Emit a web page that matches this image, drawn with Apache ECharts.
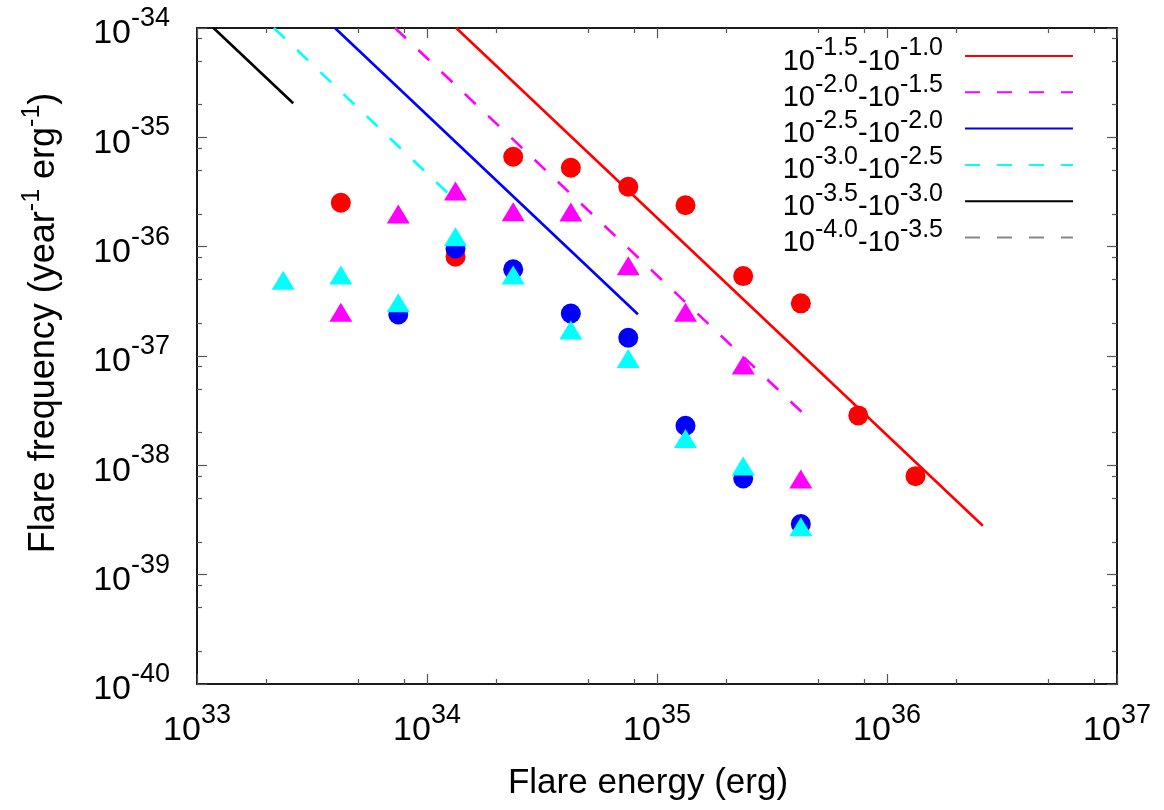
<!DOCTYPE html>
<html><head><meta charset="utf-8">
<script src="https://cdn.jsdelivr.net/npm/echarts@6/dist/echarts.min.js"></script>
<style>html,body{margin:0;padding:0;background:#fff}#c{width:1164px;height:810px}</style>
</head><body><div id="c"></div>
<script>
const FONT = "'Liberation Sans', Arial, Helvetica, sans-serif";

// Flare energy bin centres (erg)
const energy = [2.37e33, 4.22e33, 7.50e33, 1.33e34, 2.37e34, 4.22e34, 7.50e34, 1.33e35, 2.37e35, 4.22e35, 7.50e35, 1.33e36];
// Observed flare frequencies (year^-1 erg^-1)
const redFreq     = [null, 2.52e-36, null, 8.09e-37, 6.65e-36, 5.27e-36, 3.53e-36, 2.39e-36, 5.38e-37, 3.03e-37, 2.86e-38, 7.96e-39];
const magentaFreq = [null, 2.51e-37, 1.99e-36, 3.23e-36, 2.09e-36, 2.07e-36, 6.68e-37, 2.51e-37, 8.26e-38, 7.48e-39, null, null];
const blueFreq    = [null, null, 2.40e-37, 9.64e-37, 6.20e-37, 2.45e-37, 1.47e-37, 2.30e-38, 7.59e-39, 2.90e-39, null, null];
const cyanFreq    = [4.94e-37, 5.50e-37, 3.07e-37, 1.23e-36, 5.50e-37, 1.73e-37, 9.51e-38, 1.76e-38, 9.84e-39, 2.74e-39, null, null];

// Power-law fit lines (legend ranges)
const rangeLow  = ['-1.5', '-2.0', '-2.5', '-3.0', '-3.5', '-4.0'];
const rangeHigh = ['-1.0', '-1.5', '-2.0', '-2.5', '-3.0', '-3.5'];
const fitStartE = [1.34e34, 7.26e33, 3.98e33, 2.16e33, 1.18e33, null];
const fitStartF = [1e-34, 1e-34, 1e-34, 1e-34, 1e-34, null];
const fitEndE   = [2.61e36, 4.68e35, 8.26e34, 1.30e34, 2.62e33, null];
const fitEndF   = [2.80e-39, 2.55e-38, 2.41e-37, 2.77e-36, 2.05e-35, null];
const fitColors = ['#ff0000', '#ff00ff', '#0000ff', '#00ffff', '#000000', '#888888'];
const fitDashed = [false, true, false, true, false, true];

// Axis range and tick values (decades of 10)
const xMinExp = 33, xMaxExp = 37, yMinExp = -40, yMaxExp = -34;
const xMinorTicks = [2e33,5e33,8e33,2e34,5e34,8e34,2e35,5e35,8e35,2e36,5e36,8e36];
const yMinorTicks = [2e-40,5e-40,8e-40,2e-39,5e-39,8e-39,2e-38,5e-38,8e-38,2e-37,5e-37,8e-37,2e-36,5e-36,8e-36,2e-35,5e-35,8e-35];

// the axes are laid out in decades (log10 of the values)
const lg = Math.log10;
const pairs = (ys) => energy.map((e, i) => ys[i] == null ? null : [lg(e), lg(ys[i])]).filter(p => p);
const fitName = (i) => '10^' + rangeLow[i] + '-10^' + rangeHigh[i];

const axisRich = {
  b: { fontSize: 34, fontFamily: FONT, color: '#000', lineHeight: 46, verticalAlign: 'bottom' },
  s: { fontSize: 27, fontFamily: FONT, color: '#000', verticalAlign: 'top' }
};
const expFmt = (v) => '{b|10}{s|' + Math.round(v) + '}';
const lineCol = '#1a1a1a';

function mkAxis(isX, pos, major, showLabel) {
  const ax = {
    type: 'value', position: pos,
    min: isX ? xMinExp : yMinExp, max: isX ? xMaxExp : yMaxExp, interval: 1,
    axisLine: { show: major, onZero: false, lineStyle: { color: lineCol, width: 2 } },
    axisTick: { show: true, inside: true, length: major ? 10 : 5, lineStyle: { color: '#555', width: 1.2 } },
    splitLine: { show: false }, minorTick: { show: false },
    axisLabel: { show: showLabel, margin: isX ? 18 : 27, formatter: expFmt, rich: axisRich },
    axisPointer: { show: false }
  };
  if (!major) ax.axisTick.customValues = (isX ? xMinorTicks : yMinorTicks).map(lg);
  return ax;
}

const xAxes = [mkAxis(true, 'bottom', true, true), mkAxis(true, 'bottom', false, false), mkAxis(true, 'top', true, false), mkAxis(true, 'top', false, false)];
xAxes[0].name = 'Flare energy (erg)';
xAxes[0].nameLocation = 'middle';
xAxes[0].nameGap = 79;
xAxes[0].nameTextStyle = { fontSize: 35, fontFamily: FONT, color: '#000', lineHeight: 40, padding: [0, 18, 0, 0] };

const yAxes = [mkAxis(false, 'left', true, true), mkAxis(false, 'left', false, false), mkAxis(false, 'right', true, false), mkAxis(false, 'right', false, false)];
yAxes[0].name = '{t|Flare frequency (year}{s|-1}{t| erg}{s|-1}{t|)}';
yAxes[0].nameLocation = 'middle';
yAxes[0].nameGap = 135;
yAxes[0].nameTextStyle = {
  padding: [0, 0, 0, 66],
  rich: {
    t: { fontSize: 36, fontFamily: FONT, color: '#000', lineHeight: 42, verticalAlign: 'bottom' },
    s: { fontSize: 25, fontFamily: FONT, color: '#000', verticalAlign: 'top' }
  }
};

const series = [];
const scatterDefs = [
  { d: redFreq, c: '#ff0000', sym: 'circle', size: 20 },
  { d: magentaFreq, c: '#ff00ff', sym: 'triangle', size: [23, 19] },
  { d: blueFreq, c: '#0000ff', sym: 'circle', size: 20 },
  { d: cyanFreq, c: '#00ffff', sym: 'triangle', size: [23, 19] }
];
scatterDefs.forEach((s, k) => {
  series.push({
    type: 'scatter', name: 'pts' + k, xAxisIndex: 0, yAxisIndex: 0,
    data: pairs(s.d), symbol: s.sym, symbolSize: s.size,
    itemStyle: { color: s.c, opacity: 1 }, z: 2 + k, silent: true
  });
});
rangeLow.forEach((_, i) => {
  const data = fitStartE[i] == null ? [] : [[lg(fitStartE[i]), lg(fitStartF[i])], [lg(fitEndE[i]), lg(fitEndF[i])]];
  series.push({
    type: 'line', name: fitName(i), xAxisIndex: 0, yAxisIndex: 0,
    data: data, symbol: 'none', showSymbol: false, clip: true, z: 10,
    lineStyle: { color: fitColors[i], width: 2.6, type: fitDashed[i] ? [15, 17] : 'solid' },
    itemStyle: { color: fitColors[i] }, silent: true
  });
});

const legendRich = {
  b: { fontSize: 29, fontFamily: FONT, color: '#000', lineHeight: 40, verticalAlign: 'bottom' },
  s: { fontSize: 25, fontFamily: FONT, color: '#000', verticalAlign: 'top' }
};

const option = {
  backgroundColor: '#fff',
  animation: false,
  grid: { left: 197, right: 47, top: 28, bottom: 126, containLabel: false, outerBoundsMode: 'none' },
  xAxis: xAxes,
  yAxis: yAxes,
  legend: {
    orient: 'vertical', right: 85, top: 31, align: 'right',
    itemWidth: 108, itemHeight: 4, itemGap: -3.7,
    selectedMode: false,
    itemStyle: { opacity: 0 },
    data: rangeLow.map((_, i) => fitName(i)),
    formatter: (n) => {
      const m = n.match(/^10\^(\S+?)-10\^(\S+)$/);
      return '{b|10}{s|' + m[1] + '}{b|-10}{s|' + m[2] + '}';
    },
    textStyle: { rich: legendRich, padding: [0, 17, 0, 0] }
  },
  series: series
};
echarts.init(document.getElementById('c'), null, { renderer: 'canvas' }).setOption(option);
</script></body></html>
